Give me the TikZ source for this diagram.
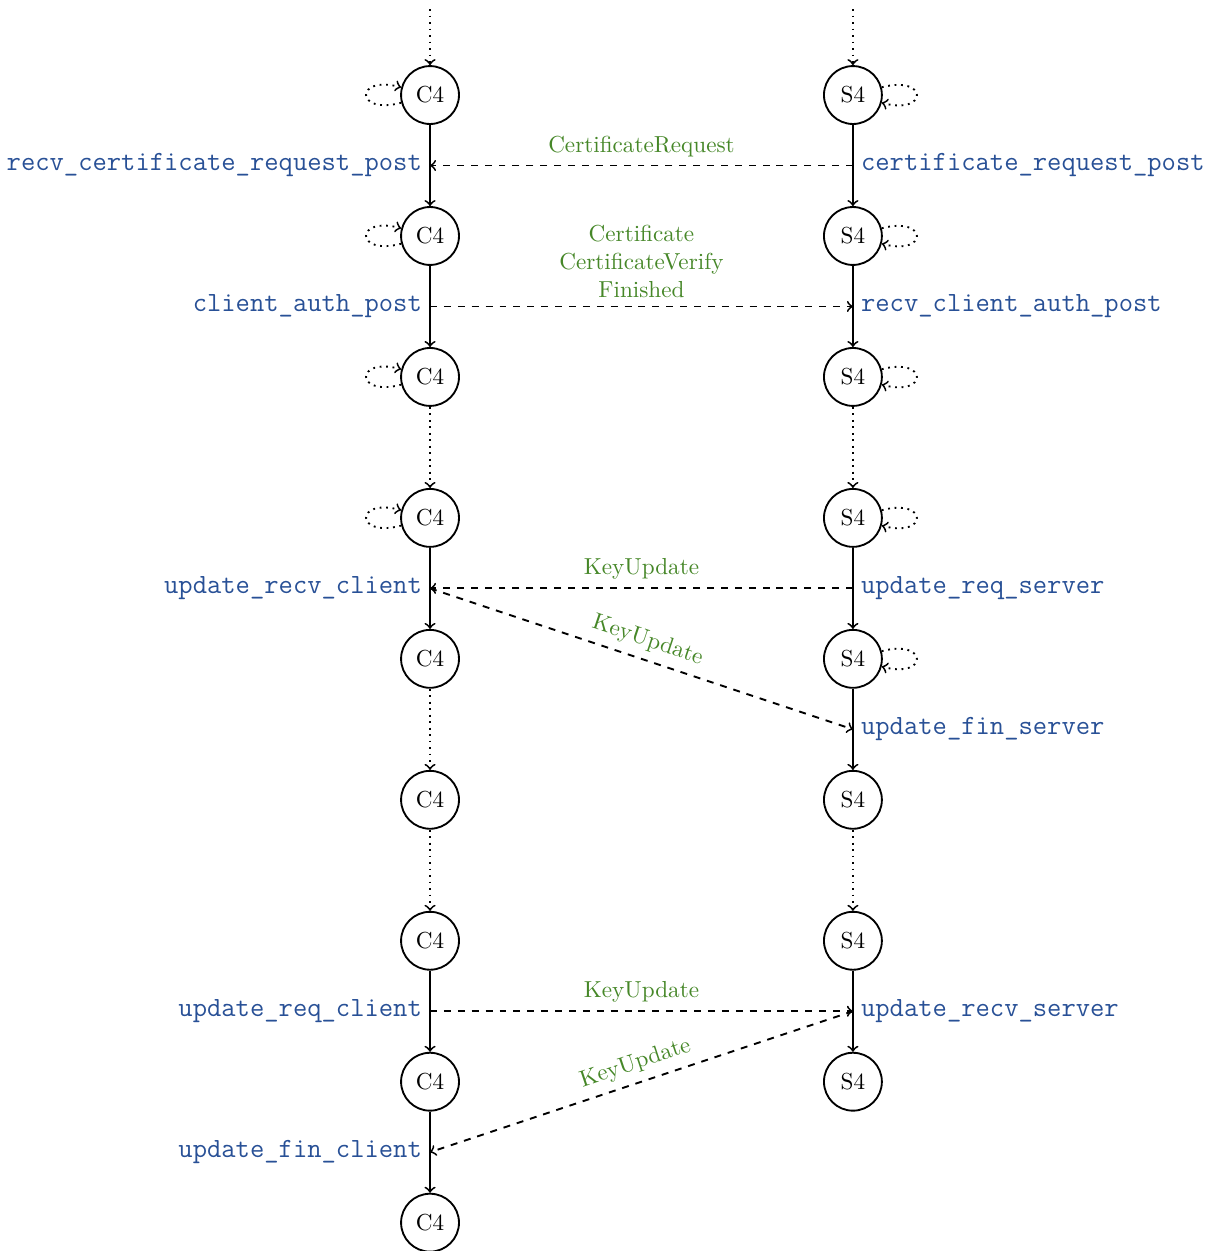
\documentclass[tikz,border=0pt]{standalone}
\usepackage{tikz}
\usetikzlibrary{arrows,positioning}
\definecolor{fnblue}{RGB}{40,80,150}
\definecolor{msggreen}{RGB}{70,135,40}

\begin{document}
\begin{tikzpicture}[
            state/.style={draw,thick,circle,minimum size=25pt,inner sep=0pt},
            fn/.style={text=fnblue,font=\ttfamily\large},
            lbl/.style={text=msggreen,align=center},
            flow/.style={->,thick},
            idle/.style={->,thick,dotted},
            msg/.style={->,thick,dashed},
            node distance = 1.232cm and 5.51cm
  ]

  \useasboundingbox (-6.525,1.442) rectangle (11.85,-17.54);

  \node[state] (c0) {C4};
  \node[state] (s0) [right=of c0] {S4};
  \node[state] (c1) [below=of c0] {C4};
  \node[state] (s1) [below=of s0] {S4};
  \node[state] (c2) [below=of c1] {C4};
  \node[state] (s2) [below=of s1] {S4};
  \node[state] (c3) [below=of c2] {C4};
  \node[state] (s3) [below=of s2] {S4};
  \node[state] (c4) [below=of c3] {C4};
  \node[state] (s4) [below=of s3] {S4};
  \node[state] (c5) [below=of c4] {C4};
  \node[state] (s5) [below=of s4] {S4};
  \node[state] (c6) [below=of c5] {C4};
  \node[state] (s6) [below=of s5] {S4};
  \node[state] (c7) [below=of c6] {C4};
  \node[state] (s7) [below=of s6] {S4};
  \node[state] (c8) [below=of c7] {C4};

  \coordinate[above=0.85cm of c0] (ctop);
  \coordinate[above=0.85cm of s0] (stop);

  % client line
  \draw[idle] (ctop) -- (c0);
  \draw[flow] (c0) -- coordinate (cCR) (c1);
  \draw[flow] (c1) -- coordinate (cCA) (c2);
  \draw[idle] (c2) -- (c3);
  \draw[flow] (c3) -- coordinate (cUR) (c4);
  \draw[idle] (c4) -- (c5);
  \draw[idle] (c5) -- (c6);
  \draw[flow] (c6) -- coordinate (cUQ) (c7);
  \draw[flow] (c7) -- coordinate (cUF) (c8);

  % server line
  \draw[idle] (stop) -- (s0);
  \draw[flow] (s0) -- coordinate (sCR) (s1);
  \draw[flow] (s1) -- coordinate (sCA) (s2);
  \draw[idle] (s2) -- (s3);
  \draw[flow] (s3) -- coordinate (sUQ) (s4);
  \draw[flow] (s4) -- coordinate (sUF) (s5);
  \draw[idle] (s5) -- (s6);
  \draw[flow] (s6) -- coordinate (sUR) (s7);

  % self loops
  \draw[idle] (c0) to[loop left] (c0);
  \draw[idle] (c1) to[loop left] (c1);
  \draw[idle] (c2) to[loop left] (c2);
  \draw[idle] (c3) to[loop left] (c3);
  \draw[idle] (s0) to[loop right] (s0);
  \draw[idle] (s1) to[loop right] (s1);
  \draw[idle] (s2) to[loop right] (s2);
  \draw[idle] (s3) to[loop right] (s3);
  \draw[idle] (s4) to[loop right] (s4);

  % handler names
  \node[fn, left] (fCR) at (cCR) {recv\_certificate\_request\_post};
  \node[fn, right] (gCR) at (sCR) {certificate\_request\_post};
  \node[fn, left] (fCA) at (cCA) {client\_auth\_post};
  \node[fn, right] (gCA) at (sCA) {recv\_client\_auth\_post};
  \node[fn, left] (fUR) at (cUR) {update\_recv\_client};
  \node[fn, right] (gUQ) at (sUQ) {update\_req\_server};
  \node[fn, right] (gUF) at (sUF) {update\_fin\_server};
  \node[fn, left] (fUQ) at (cUQ) {update\_req\_client};
  \node[fn, right] (gUR) at (sUR) {update\_recv\_server};
  \node[fn, left] (fUF) at (cUF) {update\_fin\_client};

  % messages
  \draw[msg] (sCR) -- node[lbl, midway, above] (tCR) {CertificateRequest} (cCR);
  \draw[msg] (cCA) -- node[lbl, midway, above] (tCA) {Certificate\\CertificateVerify\\Finished} (sCA);
  \draw[msg] (sUQ) -- node[lbl, midway, above] (tUQ) {KeyUpdate} (cUR);
  \draw[msg] (cUR) -- node[lbl, midway, above, sloped] (tUF) {KeyUpdate} (sUF);
  \draw[msg] (cUQ) -- node[lbl, midway, above] (tUR) {KeyUpdate} (sUR);
  \draw[msg] (sUR) -- node[lbl, midway, above, sloped] (tCF) {KeyUpdate} (cUF);

\end{tikzpicture}
\end{document}
